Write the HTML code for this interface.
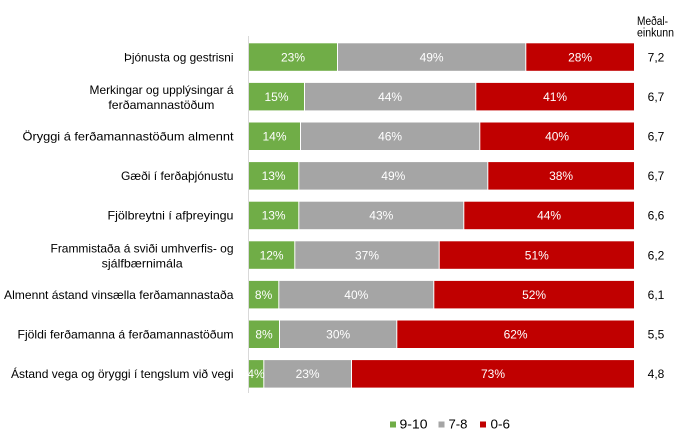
<!DOCTYPE html>
<html>
<head>
<meta charset="utf-8">
<style>
html,body{margin:0;padding:0;background:#fff;}
svg{display:block;}
text{font-family:"Liberation Sans",sans-serif;}
.lab{font-size:12px;fill:#000;text-anchor:end;}
.labc{font-size:12px;fill:#000;text-anchor:middle;}
.val{font-size:12px;fill:#fff;text-anchor:middle;}
.mean{font-size:12px;fill:#000;text-anchor:middle;}
.hd{font-size:11.5px;fill:#000;}
.lg{font-size:13px;fill:#000;}
</style>
</head>
<body>
<svg width="690" height="444" viewBox="0 0 690 444" xmlns="http://www.w3.org/2000/svg">
<rect width="690" height="444" fill="#fff"/>
<!-- header -->
<text class="hd" x="637" y="25" textLength="31" lengthAdjust="spacingAndGlyphs">Meðal-</text>
<text class="hd" x="637" y="36.7" textLength="37" lengthAdjust="spacingAndGlyphs">einkunn</text>
<!-- axis -->
<line x1="248.5" y1="36" x2="248.5" y2="393" stroke="#D9D9D9" stroke-width="1"/>

<!-- Row 1 -->
<g>
<rect x="249" y="43.3" width="88" height="27.5" fill="#70AD47"/>
<rect x="338" y="43.3" width="187.3" height="27.5" fill="#A5A5A5"/>
<rect x="526.3" y="43.3" width="107.7" height="27.5" fill="#C00000"/>
<text class="val" x="293" y="61.3">23%</text>
<text class="val" x="431.6" y="61.3">49%</text>
<text class="val" x="580.1" y="61.3">28%</text>
<text class="mean" x="656" y="61.3">7,2</text>
<text class="lab" x="233.5" y="61.3" textLength="109.5" lengthAdjust="spacingAndGlyphs">Þjónusta og gestrisni</text>
</g>
<!-- Row 2 -->
<g>
<rect x="249" y="82.9" width="55" height="27.5" fill="#70AD47"/>
<rect x="305" y="82.9" width="170.3" height="27.5" fill="#A5A5A5"/>
<rect x="476.3" y="82.9" width="157.7" height="27.5" fill="#C00000"/>
<text class="val" x="276.5" y="100.9">15%</text>
<text class="val" x="390.1" y="100.9">44%</text>
<text class="val" x="555.1" y="100.9">41%</text>
<text class="mean" x="656" y="100.9">6,7</text>
<text class="lab" x="233.5" y="94.2" textLength="144" lengthAdjust="spacingAndGlyphs">Merkingar og upplýsingar á</text>
<text class="labc" x="161.4" y="109.2" textLength="106" lengthAdjust="spacingAndGlyphs">ferðamannastöðum</text>
</g>
<!-- Row 3 -->
<g>
<rect x="249" y="122.5" width="51" height="27.5" fill="#70AD47"/>
<rect x="301" y="122.5" width="178.3" height="27.5" fill="#A5A5A5"/>
<rect x="480.3" y="122.5" width="153.7" height="27.5" fill="#C00000"/>
<text class="val" x="274.5" y="140.5">14%</text>
<text class="val" x="390.1" y="140.5">46%</text>
<text class="val" x="557.1" y="140.5">40%</text>
<text class="mean" x="656" y="140.5">6,7</text>
<text class="lab" x="233.5" y="140.5" textLength="211" lengthAdjust="spacingAndGlyphs">Öryggi á ferðamannastöðum almennt</text>
</g>
<!-- Row 4 -->
<g>
<rect x="249" y="162.1" width="49.3" height="27.5" fill="#70AD47"/>
<rect x="299.3" y="162.1" width="188" height="27.5" fill="#A5A5A5"/>
<rect x="488.3" y="162.1" width="145.7" height="27.5" fill="#C00000"/>
<text class="val" x="273.6" y="180.1">13%</text>
<text class="val" x="393.3" y="180.1">49%</text>
<text class="val" x="561.1" y="180.1">38%</text>
<text class="mean" x="656" y="180.1">6,7</text>
<text class="lab" x="233.5" y="180.1" textLength="112.5" lengthAdjust="spacingAndGlyphs">Gæði í ferðaþjónustu</text>
</g>
<!-- Row 5 -->
<g>
<rect x="249" y="201.7" width="49.3" height="27.5" fill="#70AD47"/>
<rect x="299.3" y="201.7" width="164" height="27.5" fill="#A5A5A5"/>
<rect x="464.3" y="201.7" width="169.7" height="27.5" fill="#C00000"/>
<text class="val" x="273.6" y="219.7">13%</text>
<text class="val" x="381.3" y="219.7">43%</text>
<text class="val" x="549.1" y="219.7">44%</text>
<text class="mean" x="656" y="219.7">6,6</text>
<text class="lab" x="233.5" y="219.7" textLength="126" lengthAdjust="spacingAndGlyphs">Fjölbreytni í afþreyingu</text>
</g>
<!-- Row 6 -->
<g>
<rect x="249" y="241.3" width="45.3" height="27.5" fill="#70AD47"/>
<rect x="295.3" y="241.3" width="143.4" height="27.5" fill="#A5A5A5"/>
<rect x="439.7" y="241.3" width="194.3" height="27.5" fill="#C00000"/>
<text class="val" x="271.6" y="259.3">12%</text>
<text class="val" x="367" y="259.3">37%</text>
<text class="val" x="536.8" y="259.3">51%</text>
<text class="mean" x="656" y="259.3">6,2</text>
<text class="lab" x="233.5" y="252.6" textLength="183" lengthAdjust="spacingAndGlyphs">Frammistaða á sviði umhverfis- og</text>
<text class="labc" x="142.2" y="267.6" textLength="81" lengthAdjust="spacingAndGlyphs">sjálfbærnimála</text>
</g>
<!-- Row 7 -->
<g>
<rect x="249" y="280.9" width="29.3" height="27.5" fill="#70AD47"/>
<rect x="279.3" y="280.9" width="154" height="27.5" fill="#A5A5A5"/>
<rect x="434.3" y="280.9" width="199.7" height="27.5" fill="#C00000"/>
<text class="val" x="263.6" y="298.9">8%</text>
<text class="val" x="356.3" y="298.9">40%</text>
<text class="val" x="534.1" y="298.9">52%</text>
<text class="mean" x="656" y="298.9">6,1</text>
<text class="lab" x="233.5" y="298.9" textLength="229.5" lengthAdjust="spacingAndGlyphs">Almennt ástand vinsælla ferðamannastaða</text>
</g>
<!-- Row 8 -->
<g>
<rect x="249" y="320.5" width="30" height="27.5" fill="#70AD47"/>
<rect x="280" y="320.5" width="116.3" height="27.5" fill="#A5A5A5"/>
<rect x="397.3" y="320.5" width="236.7" height="27.5" fill="#C00000"/>
<text class="val" x="264" y="338.5">8%</text>
<text class="val" x="338.2" y="338.5">30%</text>
<text class="val" x="515.6" y="338.5">62%</text>
<text class="mean" x="656" y="338.5">5,5</text>
<text class="lab" x="233.5" y="338.5" textLength="216" lengthAdjust="spacingAndGlyphs">Fjöldi ferðamanna á ferðamannastöðum</text>
</g>
<!-- Row 9 -->
<g>
<rect x="249" y="360.1" width="14.3" height="27.5" fill="#70AD47"/>
<rect x="264.3" y="360.1" width="86.7" height="27.5" fill="#A5A5A5"/>
<rect x="352" y="360.1" width="282" height="27.5" fill="#C00000"/>
<text class="val" x="256" y="378.1">4%</text>
<text class="val" x="307.6" y="378.1">23%</text>
<text class="val" x="493" y="378.1">73%</text>
<text class="mean" x="656" y="378.1">4,8</text>
<text class="lab" x="233.5" y="378.1" textLength="222.5" lengthAdjust="spacingAndGlyphs">Ástand vega og öryggi í tengslum við vegi</text>
</g>

<!-- Legend -->
<rect x="390" y="421.5" width="6" height="6" fill="#70AD47"/>
<text class="lg" x="399.5" y="428.5" textLength="28" lengthAdjust="spacingAndGlyphs">9-10</text>
<rect x="438.5" y="421.5" width="6" height="6" fill="#A5A5A5"/>
<text class="lg" x="448.5" y="428.5" textLength="19" lengthAdjust="spacingAndGlyphs">7-8</text>
<rect x="480" y="421.5" width="6" height="6" fill="#C00000"/>
<text class="lg" x="490.5" y="428.5" textLength="19.5" lengthAdjust="spacingAndGlyphs">0-6</text>
</svg>
</body>
</html>
